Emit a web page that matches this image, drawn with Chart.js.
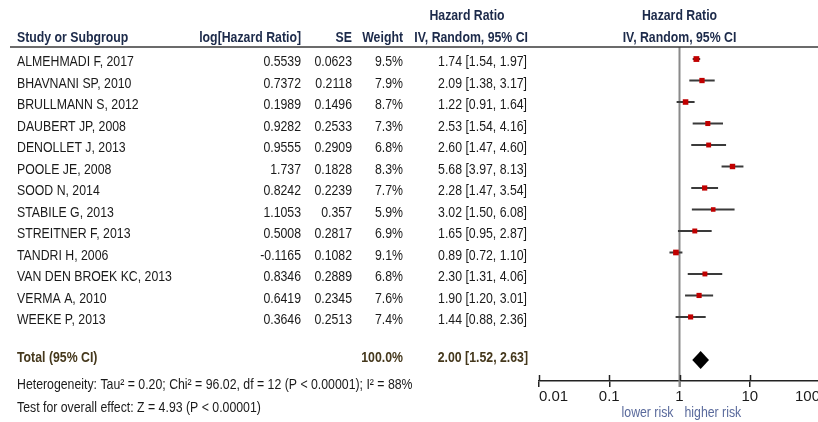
<!DOCTYPE html>
<html>
<head>
<meta charset="utf-8">
<title>Forest plot – Hazard Ratio</title>
<script src="https://cdn.jsdelivr.net/npm/chart.js@4.4.1/dist/chart.umd.min.js"></script>
<style>
  html, body { margin: 0; padding: 0; background: #fff; overflow: hidden; width: 818px; height: 422px; }
  #wrap { position: absolute; left: 0; top: 0; width: 830px; height: 422px; }
</style>
</head>
<body>
<div id="wrap"><canvas id="forest" width="830" height="422"></canvas></div>
<script>
// ---- study data ----
const studies = [
  'ALMEHMADI F, 2017', 'BHAVNANI SP, 2010', 'BRULLMANN S, 2012', 'DAUBERT JP, 2008',
  'DENOLLET J, 2013', 'POOLE JE, 2008', 'SOOD N, 2014', 'STABILE G, 2013',
  'STREITNER F, 2013', 'TANDRI H, 2006', 'VAN DEN BROEK KC, 2013', 'VERMA A, 2010',
  'WEEKE P, 2013'
];
const logHR   = [0.5539, 0.7372, 0.1989, 0.9282, 0.9555, 1.737, 0.8242, 1.1053, 0.5008, -0.1165, 0.8346, 0.6419, 0.3646];
const seLogHR = [0.0623, 0.2118, 0.1496, 0.2533, 0.2909, 0.1828, 0.2239, 0.357, 0.2817, 0.1082, 0.2889, 0.2345, 0.2513];
const weights = [9.5, 7.9, 8.7, 7.3, 6.8, 8.3, 7.7, 5.9, 6.9, 9.1, 6.8, 7.6, 7.4];
const hazardRatio = [1.74, 2.09, 1.22, 2.53, 2.60, 5.68, 2.28, 3.02, 1.65, 0.89, 2.30, 1.90, 1.44];
const ciLow       = [1.54, 1.38, 0.91, 1.54, 1.47, 3.97, 1.47, 1.50, 0.95, 0.72, 1.31, 1.20, 0.88];
const ciHigh      = [1.97, 3.17, 1.64, 4.16, 4.60, 8.13, 3.54, 6.08, 2.87, 1.10, 4.06, 3.01, 2.36];

// ---- pooled estimate ----
const totalLabel  = 'Total (95% CI)';
const totalWeight = 100.0;
const totalHR     = 2.00;
const totalLow    = 1.52;
const totalHigh   = 2.63;

const heterogeneityText = 'Heterogeneity: Tau\u00B2 = 0.20; Chi\u00B2 = 96.02, df = 12 (P < 0.00001); I\u00B2 = 88%';
const overallEffectText = 'Test for overall effect: Z = 4.93 (P < 0.00001)';

// ---- axis ----
const tickValues = [0.01, 0.1, 1, 10, 100];
const tickLabels = ['0.01', '0.1', '1', '10', '100'];
const favourLeft  = 'lower risk';
const favourRight = 'higher risk';

// ---- styling ----
const HEAD_COLOR  = '#1c2a4a';
const TOTAL_COLOR = '#45381c';
const TEXT_COLOR  = '#1a1a1a';
const FAVOUR_COLOR = '#5a6a9c';
const FONT_SIZE = 15;
const totalRow = studies.length + 1;

// Prefer a condensed face; otherwise squeeze the regular one horizontally.
const probe = document.createElement('canvas').getContext('2d');
probe.font = "15px 'Liberation Sans Narrow', monospace";
const wNarrow = probe.measureText('ALMEHMADI F, 2017').width;
probe.font = '15px monospace';
const wMono = probe.measureText('ALMEHMADI F, 2017').width;
const HAS_NARROW = Math.abs(wNarrow - wMono) > 0.5;
const TICK_FAMILY = HAS_NARROW ? "'Liberation Sans Narrow'" : "'Liberation Sans', Arial, sans-serif";

function drawText(ctx, str, x, y, align, bold, color) {
  ctx.save();
  ctx.fillStyle = color;
  ctx.textAlign = align;
  ctx.textBaseline = 'middle';
  const w = bold ? 'bold ' : '';
  if (HAS_NARROW) {
    ctx.font = `${w}${FONT_SIZE}px 'Liberation Sans Narrow'`;
    ctx.fillText(str, x, y);
  } else {
    ctx.font = `${w}${FONT_SIZE}px 'Liberation Sans', Arial, sans-serif`;
    ctx.translate(x, y);
    ctx.scale(0.82, 1);
    ctx.fillText(str, 0, 0);
  }
  ctx.restore();
}

// marker side grows with the study weight
const markerRadius = w => (5.8 * Math.sqrt(w / 9.5)) / Math.SQRT2;

// confidence-interval segments, broken apart by gaps
const ciSegments = [];
studies.forEach((_, i) => {
  ciSegments.push({ x: ciLow[i], y: i }, { x: ciHigh[i], y: i }, { x: null, y: null });
});

// columns of the table on the left
const COL = { name: 17, logHR: 301, se: 352, weight: 403, ci: 527, ciHead: 467 };

const forestPlugin = {
  id: 'forestTable',
  beforeDatasetsDraw(chart) {
    const { ctx, scales: { x }, chartArea } = chart;
    // line of no effect
    const x1 = x.getPixelForValue(1);
    ctx.save();
    ctx.strokeStyle = '#8a8a8a';
    ctx.lineWidth = 2;
    ctx.beginPath();
    ctx.moveTo(x1, chartArea.top);
    ctx.lineTo(x1, chartArea.bottom + 6);
    ctx.stroke();
    ctx.restore();
  },
  afterDatasetsDraw(chart) {
    const { ctx, scales: { x, y } } = chart;
    // pooled diamond
    const yc = y.getPixelForValue(totalRow);
    const xl = x.getPixelForValue(totalLow);
    const xm = x.getPixelForValue(totalHR);
    const xr = x.getPixelForValue(totalHigh);
    ctx.save();
    ctx.fillStyle = '#000';
    ctx.beginPath();
    ctx.moveTo(xl, yc);
    ctx.lineTo(xm, yc - 9);
    ctx.lineTo(xr, yc);
    ctx.lineTo(xm, yc + 9);
    ctx.closePath();
    ctx.fill();
    ctx.restore();
  },
  afterDraw(chart) {
    const { ctx, scales: { x, y }, chartArea } = chart;
    // tick stubs above the axis line
    ctx.save();
    ctx.strokeStyle = '#222';
    ctx.lineWidth = 1.5;
    tickValues.forEach(v => {
      const px = Math.round(x.getPixelForValue(v)) + 0.5;
      ctx.beginPath();
      ctx.moveTo(px, chartArea.bottom - 6);
      ctx.lineTo(px, chartArea.bottom);
      ctx.stroke();
    });
    // header rule
    ctx.strokeStyle = '#3a3a3a';
    ctx.lineWidth = 1.5;
    ctx.beginPath();
    ctx.moveTo(10, chartArea.top);
    ctx.lineTo(830, chartArea.top);
    ctx.stroke();
    ctx.restore();

    // headers
    const h1 = 16, h2 = 38;
    drawText(ctx, 'Hazard Ratio', COL.ciHead, h1, 'center', true, HEAD_COLOR);
    drawText(ctx, 'Hazard Ratio', x.getPixelForValue(1), h1, 'center', true, HEAD_COLOR);
    drawText(ctx, 'Study or Subgroup', COL.name, h2, 'left', true, HEAD_COLOR);
    drawText(ctx, 'log[Hazard Ratio]', COL.logHR, h2, 'right', true, HEAD_COLOR);
    drawText(ctx, 'SE', COL.se, h2, 'right', true, HEAD_COLOR);
    drawText(ctx, 'Weight', COL.weight, h2, 'right', true, HEAD_COLOR);
    drawText(ctx, 'IV, Random, 95% CI', COL.ci + 1, h2, 'right', true, HEAD_COLOR);
    drawText(ctx, 'IV, Random, 95% CI', x.getPixelForValue(1), h2, 'center', true, HEAD_COLOR);

    // study rows
    studies.forEach((name, i) => {
      const ty = y.getPixelForValue(i) + 3;
      drawText(ctx, name, COL.name, ty, 'left', false, TEXT_COLOR);
      drawText(ctx, String(logHR[i]), COL.logHR, ty, 'right', false, TEXT_COLOR);
      drawText(ctx, String(seLogHR[i]), COL.se, ty, 'right', false, TEXT_COLOR);
      drawText(ctx, weights[i].toFixed(1) + '%', COL.weight, ty, 'right', false, TEXT_COLOR);
      drawText(ctx, `${hazardRatio[i].toFixed(2)} [${ciLow[i].toFixed(2)}, ${ciHigh[i].toFixed(2)}]`,
               COL.ci, ty, 'right', false, TEXT_COLOR);
    });

    // pooled row
    const ty = y.getPixelForValue(totalRow) - 2;
    drawText(ctx, totalLabel, COL.name, ty, 'left', true, TOTAL_COLOR);
    drawText(ctx, totalWeight.toFixed(1) + '%', COL.weight, ty, 'right', true, TOTAL_COLOR);
    drawText(ctx, `${totalHR.toFixed(2)} [${totalLow.toFixed(2)}, ${totalHigh.toFixed(2)}]`,
             COL.ci + 1, ty, 'right', true, TOTAL_COLOR);

    // footnotes
    drawText(ctx, heterogeneityText, COL.name, 385, 'left', false, TEXT_COLOR);
    drawText(ctx, overallEffectText, COL.name, 408, 'left', false, TEXT_COLOR);

    // favours labels around the line of no effect
    const x1 = x.getPixelForValue(1);
    drawText(ctx, favourLeft, x1 - 6, 413, 'right', false, FAVOUR_COLOR);
    drawText(ctx, favourRight, x1 + 5, 413, 'left', false, FAVOUR_COLOR);
  }
};

new Chart(document.getElementById('forest'), {
  type: 'scatter',
  data: {
    datasets: [
      {
        label: 'Hazard Ratio',
        data: hazardRatio.map((v, i) => ({ x: v, y: i })),
        pointStyle: 'rect',
        pointRadius: c => markerRadius(weights[c.dataIndex]),
        pointHoverRadius: c => markerRadius(weights[c.dataIndex]),
        backgroundColor: '#c00000',
        borderWidth: 0,
        order: 0
      },
      {
        label: '95% CI',
        data: ciSegments,
        showLine: true,
        spanGaps: false,
        borderColor: '#3a3a3a',
        borderWidth: 2,
        pointRadius: 0,
        pointHoverRadius: 0,
        order: 1
      }
    ]
  },
  options: {
    responsive: false,
    animation: false,
    devicePixelRatio: 1,
    events: [],
    layout: { padding: { left: 539, right: 10, top: 47, bottom: 0 } },
    plugins: { legend: { display: false }, tooltip: { enabled: false } },
    scales: {
      x: {
        type: 'logarithmic',
        min: 0.01,
        max: 100,
        afterBuildTicks: s => { s.ticks = tickValues.map(v => ({ value: v })); },
        afterFit: s => { s.height = 41; s.paddingLeft = 0; s.paddingRight = 0; },
        ticks: {
          autoSkip: false,
          maxRotation: 0,
          align: 'inner',
          padding: 1,
          color: TEXT_COLOR,
          font: { family: TICK_FAMILY, size: FONT_SIZE },
          callback: (v, idx) => tickLabels[idx]
        },
        grid: { drawOnChartArea: false, drawTicks: true, tickLength: 6, color: '#222', lineWidth: 1.5 },
        border: { display: true, color: '#222', width: 1.5 }
      },
      y: { type: 'linear', display: false, reverse: true, min: -0.56, max: 14.98 }
    }
  },
  plugins: [forestPlugin]
});
</script>
</body>
</html>
